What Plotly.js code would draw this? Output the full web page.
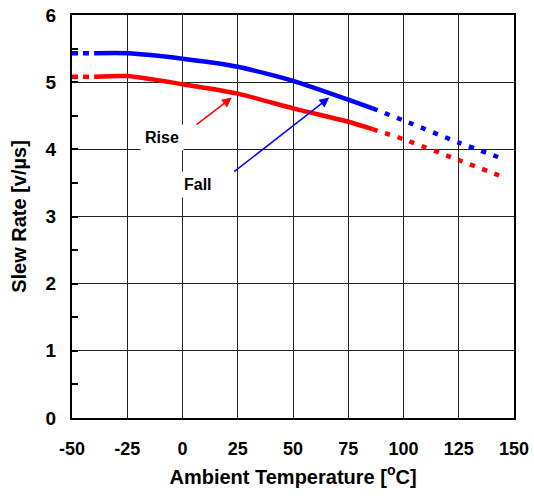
<!DOCTYPE html>
<html><head><meta charset="utf-8">
<script src="https://cdn.plot.ly/plotly-3.0.1.min.js"></script>
<style>html,body{margin:0;padding:0;background:#fff}#c{width:534px;height:498px}</style>
</head><body><div id="c"></div>
<script>
const temps = [-50, -40, -25, 0, 25, 50, 75, 86, 100, 125, 145];
const fallRate = [5.43, 5.43, 5.43, 5.35, 5.23, 5.02, 4.74, 4.61, 4.43, 4.10, 3.86];
const riseRate = [5.08, 5.08, 5.09, 4.97, 4.83, 4.61, 4.41, 4.30, 4.15, 3.84, 3.59];
const xTicks = [-50, -25, 0, 25, 50, 75, 100, 125, 150];
const yTicks = [0, 1, 2, 3, 4, 5, 6];
const solidStart = 1, solidEnd = 7;

function seg(x, y, a, b, color, dash) {
  return {x: x.slice(a, b + 1), y: y.slice(a, b + 1), mode: 'lines', type: 'scatter',
    line: {color: color, width: 4.5, dash: dash, shape: 'spline', smoothing: 0.6},
    hoverinfo: 'skip', showlegend: false};
}
const traces = [];
[[fallRate, '#0000ff'], [riseRate, '#ff0000']].forEach(([ys, col]) => {
  traces.push(seg(temps, ys, 0, solidStart, col, '6px,5px'));
  traces.push(seg(temps, ys, solidStart, solidEnd, col, 'solid'));
  traces.push(seg(temps, ys, solidEnd, temps.length - 1, col, '5px,8px'));
});

const F = 'Arial, "Liberation Sans", sans-serif';
const layout = {
  width: 534, height: 498,
  margin: {l: 72, r: 20, t: 15, b: 80},
  paper_bgcolor: '#fff', plot_bgcolor: '#fff',
  font: {family: F, color: '#000'},
  xaxis: {range: [-50, 150], tickvals: xTicks, ticktext: xTicks.map(String),
    showgrid: true, gridcolor: '#222', gridwidth: 1, zeroline: false,
    showline: true, mirror: true, linecolor: '#000', linewidth: 2,
    ticks: '', ticklabelstandoff: 13, tickfont: {size: 18, family: F, weight: 'bold'},
    title: {text: 'Ambient Temperature [<sup>o</sup>C]', font: {size: 20, family: F, weight: 'bold'}, standoff: 12}},
  yaxis: {range: [0, 6], tickvals: yTicks, ticktext: yTicks.map(String),
    showgrid: true, gridcolor: '#222', gridwidth: 1, zeroline: false,
    showline: true, mirror: true, linecolor: '#000', linewidth: 2,
    ticks: 'inside', ticklen: 6, tickcolor: '#000', tickwidth: 2,
    minor: {dtick: 0.5, ticks: 'inside', ticklen: 6, tickcolor: '#000', tickwidth: 2, showgrid: false},
    ticklabelstandoff: 10,
    tickfont: {size: 19, family: F, weight: 'bold'},
    title: {text: 'Slew Rate [v/µs]', font: {size: 20, family: F, weight: 'bold'}, standoff: 14}},
  annotations: [
    {x: -9.4, y: 4.18, xref: 'x', yref: 'y', text: 'Rise', showarrow: false,
     font: {size: 16, family: F, weight: 'bold'}, bgcolor: '#fff', borderpad: 4},
    {x: 7.2, y: 3.47, xref: 'x', yref: 'y', text: 'Fall', showarrow: false,
     font: {size: 16, family: F, weight: 'bold'}, bgcolor: '#fff', borderpad: 4},
    {x: 22.3, y: 4.77, ax: 5.66, ay: 4.35, xref: 'x', yref: 'y', axref: 'x', ayref: 'y',
     text: '', showarrow: true, arrowhead: 2, arrowsize: 1.3, arrowwidth: 1.5, arrowcolor: '#ff0000'},
    {x: 66.4, y: 4.77, ax: 22.7, ay: 3.65, xref: 'x', yref: 'y', axref: 'x', ayref: 'y',
     text: '', showarrow: true, arrowhead: 2, arrowsize: 1.3, arrowwidth: 1.5, arrowcolor: '#0000ff'}
  ]
};
Plotly.newPlot('c', traces, layout, {displayModeBar: false, staticPlot: true});
</script></body></html>
